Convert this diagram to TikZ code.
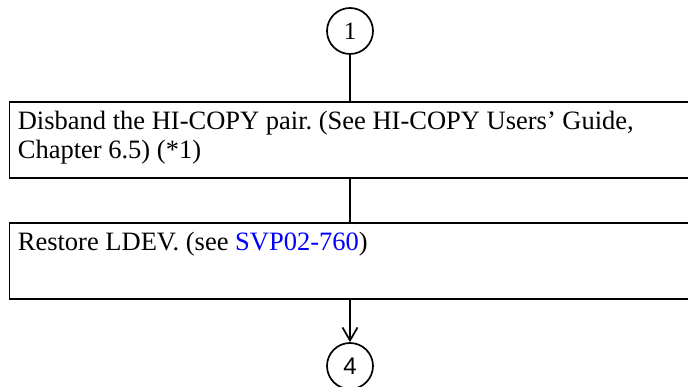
\documentclass[tikz,border=0pt]{standalone}
\usepackage{fontspec}
\setmainfont{Liberation Serif}
\newfontfamily\arialfont{Liberation Sans}
\usetikzlibrary{arrows.meta}
\definecolor{linkblue}{RGB}{0,0,255}
\newcommand{\boxtext}[1]{\parbox[c][76pt][t]{665pt}{\raggedright\frenchspacing\fontsize{26.5}{29}\selectfont\rule{0pt}{28pt}#1}}
\tikzset{
  conn/.style={draw=black, line width=1.7pt},
  stepbox/.style={draw=black, line width=1.7pt, anchor=north west, inner xsep=8.5pt, inner ysep=0pt},
  conncircle/.style={draw=black, circle, line width=1.7pt, minimum size=46pt, inner sep=0pt,
    font=\fontsize{25}{26}\selectfont}
}
\begin{document}
\begin{tikzpicture}[x=1pt,y=1pt]
\clip (0,0) rectangle (688,387);
\fill[white] (0,0) rectangle (688,387);
\node[conncircle] (c1) at (350,356) {1};
\node[stepbox] (b1) at (8.5,286) {\boxtext{Disband the HI-COPY pair. (See HI-COPY Users' Guide,\\Chapter 6.5) (*1)}};
\node[stepbox] (b2) at (8.5,165) {\boxtext{Restore LDEV. (see \textcolor{linkblue}{SVP02-760})}};
\node[conncircle, font=\arialfont\fontsize{24}{26}\selectfont] (c4) at (350,21) {4};
\draw[conn] (c1.south) -- (c1.south |- b1.north);
\draw[conn] (b1.south -| c1) -- (b2.north -| c1);
\draw[conn, -{Straight Barb[length=13pt, width=15pt, line width=1.7pt]}] (b2.south -| c1) -- (c4.north);
\end{tikzpicture}
\end{document}
